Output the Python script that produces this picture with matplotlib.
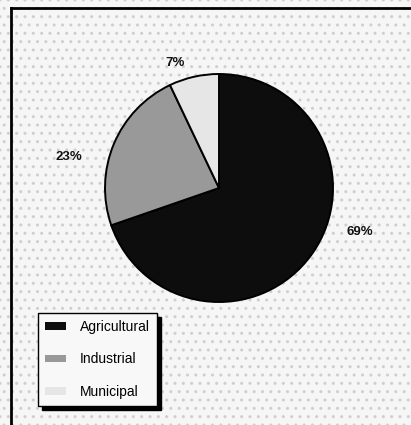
import matplotlib
matplotlib.use("Agg")
import matplotlib.pyplot as plt
from matplotlib.patches import Rectangle
from matplotlib.lines import Line2D

categories = ["Agricultural", "Industrial", "Municipal"]
values = [69, 23, 7]
pct_labels = ["69%", "23%", "7%"]
colors = ["#0d0d0d", "#999999", "#e6e6e6"]

plt.rcParams['font.family'] = ['Liberation Sans', 'DejaVu Sans']

W, H = 411, 425
fig = plt.figure(figsize=(W / 100, H / 100), dpi=100)
fig.patch.set_facecolor("white")

# dotted background
bg = Rectangle((0, 0), 1, 1, transform=fig.transFigure, facecolor="#f6f6f6",
               edgecolor="#cfcfcf", hatch="..", linewidth=0, zorder=-10)
fig.add_artist(bg)

# outer frame (top and left visible, rest cropped)
fig.add_artist(Line2D([11 / W, 1], [1 - 8 / H, 1 - 8 / H], transform=fig.transFigure,
                      color="black", linewidth=2))
fig.add_artist(Line2D([11 / W, 11 / W], [0, 1 - 8 / H], transform=fig.transFigure,
                      color="black", linewidth=2))

cx, cy, r = 219, 188, 114
ax = fig.add_axes([(cx - r) / W, (H - cy - r) / H, 2 * r / W, 2 * r / H])
ax.set_facecolor("none")
wedges, _ = ax.pie(values, colors=colors, startangle=90, counterclock=False,
                   radius=1.0, wedgeprops=dict(edgecolor="black", linewidth=1.4))
ax.set_xlim(-1, 1)
ax.set_ylim(-1, 1)
ax.set_aspect("auto")
ax.axis("off")

# label positions in pixels relative to figure
label_px = [(360, 232), (69, 157), (175, 63)]
for (px, py), txt in zip(label_px, pct_labels):
    fig.text(px / W, 1 - py / H, txt, ha="center", va="center",
             fontsize=9.5, fontweight="bold", color="#111111")

leg = fig.legend(wedges, categories, loc="upper left",
                 bbox_to_anchor=(38 / W, 1 - 313 / H), fontsize=10,
                 frameon=True, fancybox=False, edgecolor="black",
                 facecolor="#f8f8f8", framealpha=1,
                 shadow={"color": "black", "alpha": 1, "ox": 3, "oy": -3},
                 handlelength=1.5, handleheight=0.5, labelspacing=1.33,
                 borderpad=0.5, handletextpad=1.0, borderaxespad=0)
leg.get_frame().set_linewidth(1.0)
for h in leg.legend_handles:
    h.set_edgecolor("none")

fig.savefig("out.png", dpi=100)
